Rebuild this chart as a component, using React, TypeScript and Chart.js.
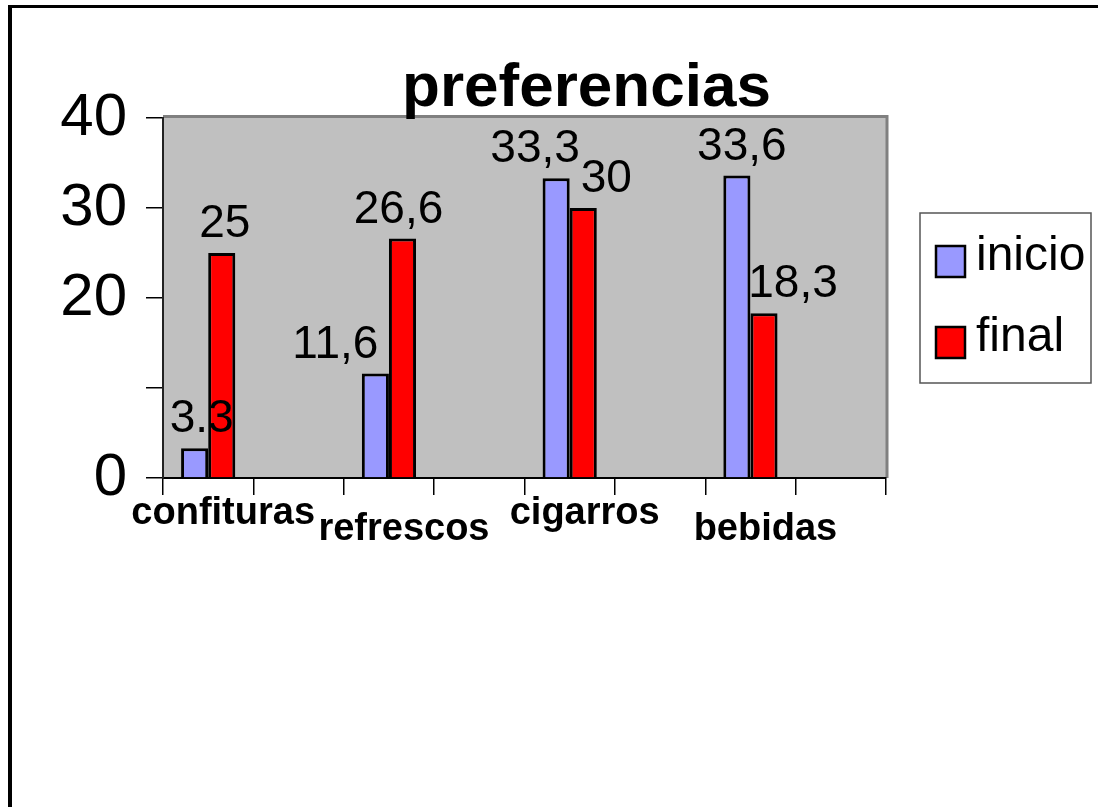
import React, { useEffect, useRef } from "react";
import { Chart, registerables } from "chart.js";

Chart.register(...registerables);

const categories = ["confituras", "refrescos", "cigarros", "bebidas"];
const inicioValues = [3.3, 11.6, 33.3, 33.6];
const finalValues = [25, 26.6, 30, 18.3];
const inicioLabels = ["3.3", "11,6", "33,3", "33,6"];
const finalLabels = ["25", "26,6", "30", "18,3"];
const yTicks = [0, 10, 20, 30, 40];
const yTickLabels = ["0", "", "20", "30", "40"];
const seriesNames = ["inicio", "final"];
const titleText = "preferencias";

// label nudges relative to each bar (styling)
const inicioDx = [7, -40, -21, 5];
const finalDx = [3, -4, 23, 29];

const FONT = "'Liberation Sans', Arial, Helvetica, sans-serif";

// 8 slots: each category followed by an empty slot; alternate labels are staggered
const slotLabels: (string | string[])[] = categories.flatMap((c, i) => [
  i % 2 === 0 ? c : ["", c],
  "",
]);
const inicioSlots = inicioValues.flatMap((v) => [v, null]);
const finalSlots = finalValues.flatMap((v) => [v, null]);

const plotBgPlugin = {
  id: "plotBg",
  beforeDraw(chart: any) {
    const { ctx, chartArea: a } = chart;
    ctx.save();
    ctx.fillStyle = "#c0c0c0";
    ctx.fillRect(a.left, a.top, a.right - a.left, a.bottom - a.top);
    ctx.strokeStyle = "#808080";
    ctx.lineWidth = 3;
    ctx.beginPath();
    ctx.moveTo(a.left, a.top - 1.5);
    ctx.lineTo(a.right + 1, a.top - 1.5);
    ctx.lineTo(a.right + 1, a.bottom);
    ctx.stroke();
    ctx.restore();
  },
};

const titlePlugin = {
  id: "customTitle",
  afterDraw(chart: any) {
    const { ctx, chartArea: a } = chart;
    ctx.save();
    ctx.font = `bold 62px ${FONT}`;
    ctx.fillStyle = "#000";
    ctx.textAlign = "center";
    ctx.textBaseline = "alphabetic";
    ctx.fillText(titleText, (a.left + a.right) / 2 + 62, a.top - 12);
    ctx.restore();
  },
};

const dataLabelPlugin = {
  id: "valueLabels",
  afterDatasetsDraw(chart: any) {
    const { ctx } = chart;
    const texts = [inicioLabels, finalLabels];
    const dxs = [inicioDx, finalDx];
    ctx.save();
    ctx.font = `46px ${FONT}`;
    ctx.fillStyle = "#000";
    ctx.textAlign = "center";
    ctx.textBaseline = "alphabetic";
    chart.data.datasets.forEach((_: any, di: number) => {
      const meta = chart.getDatasetMeta(di);
      meta.data.forEach((el: any, j: number) => {
        if (j % 2 !== 0) return;
        const k = j / 2;
        ctx.fillText(texts[di][k], el.x + dxs[di][k], el.y - 16);
      });
    });
    ctx.restore();
  },
};

const legendPlugin = {
  id: "boxLegend",
  afterDraw(chart: any) {
    const { ctx, chartArea: a } = chart;
    const x = a.right + 34;
    const y = a.top + 95;
    const w = 171;
    const h = 170;
    ctx.save();
    ctx.fillStyle = "#fff";
    ctx.fillRect(x, y, w, h);
    ctx.strokeStyle = "#555";
    ctx.lineWidth = 1.5;
    ctx.strokeRect(x, y, w, h);
    ctx.font = `48px ${FONT}`;
    ctx.textAlign = "left";
    ctx.textBaseline = "alphabetic";
    chart.data.datasets.forEach((ds: any, i: number) => {
      const cy = y + 48 + i * 81;
      ctx.fillStyle = ds.backgroundColor;
      ctx.fillRect(x + 16, cy - 15, 29, 31);
      ctx.strokeStyle = "#000";
      ctx.lineWidth = 2.5;
      ctx.strokeRect(x + 16, cy - 15, 29, 31);
      ctx.fillStyle = "#000";
      ctx.fillText(ds.label, x + 56, cy + 9);
    });
    ctx.restore();
  },
};

export default function App() {
  const canvasRef = useRef<HTMLCanvasElement | null>(null);

  useEffect(() => {
    if (!canvasRef.current) return;
    const chart = new Chart(canvasRef.current, {
      type: "bar",
      data: {
        labels: slotLabels,
        datasets: [
          {
            label: seriesNames[0],
            data: inicioSlots,
            backgroundColor: "#9999ff",
            borderColor: "#000",
            borderWidth: 3,
            categoryPercentage: 0.6,
            barPercentage: 1,
          },
          {
            label: seriesNames[1],
            data: finalSlots,
            backgroundColor: "#ff0000",
            borderColor: "#000",
            borderWidth: 3,
            categoryPercentage: 0.6,
            barPercentage: 1,
          },
        ],
      },
      options: {
        responsive: false,
        animation: false,
        layout: { padding: { left: 0, right: 212, top: 110, bottom: 229 } },
        plugins: {
          legend: { display: false },
          title: { display: false },
          tooltip: { enabled: false },
        },
        scales: {
          x: {
            offset: true,
            grid: {
              offset: true,
              drawOnChartArea: false,
              drawTicks: true,
              tickLength: 17,
              color: "#000",
              lineWidth: 1.5,
            },
            border: { display: true, color: "#000", width: 2 },
            ticks: {
              autoSkip: false,
              maxRotation: 0,
              minRotation: 0,
              padding: 11,
              labelOffset: 15,
              color: "#000",
              font: { family: FONT, size: 38, weight: "bold", lineHeight: "16px" },
            },
            afterFit: (s: any) => {
              s.height = 100;
            },
          },
          y: {
            min: yTicks[0],
            max: yTicks[yTicks.length - 1],
            grid: {
              drawOnChartArea: false,
              drawTicks: true,
              tickLength: 17,
              color: "#000",
              lineWidth: 1.5,
            },
            border: { display: true, color: "#222", width: 2 },
            ticks: {
              stepSize: 10,
              padding: 19,
              color: "#000",
              font: { family: FONT, size: 60 },
              callback: (value: any) => {
                const i = yTicks.indexOf(Number(value));
                return i >= 0 ? yTickLabels[i] : "";
              },
            },
            afterFit: (s: any) => {
              s.width = 151;
            },
          },
        },
      } as any,
      plugins: [plotBgPlugin, dataLabelPlugin, titlePlugin, legendPlugin],
    });
    return () => chart.destroy();
  }, []);

  return (
    <div
      style={{
        position: "fixed",
        left: 8,
        top: 5,
        width: 1200,
        height: 900,
        borderLeft: "4px solid #000",
        borderTop: "3px solid #000",
        background: "#fff",
      }}
    >
      <canvas
        ref={canvasRef}
        width={1086}
        height={799}
        style={{ display: "block", width: 1086, height: 799 }}
      />
    </div>
  );
}
